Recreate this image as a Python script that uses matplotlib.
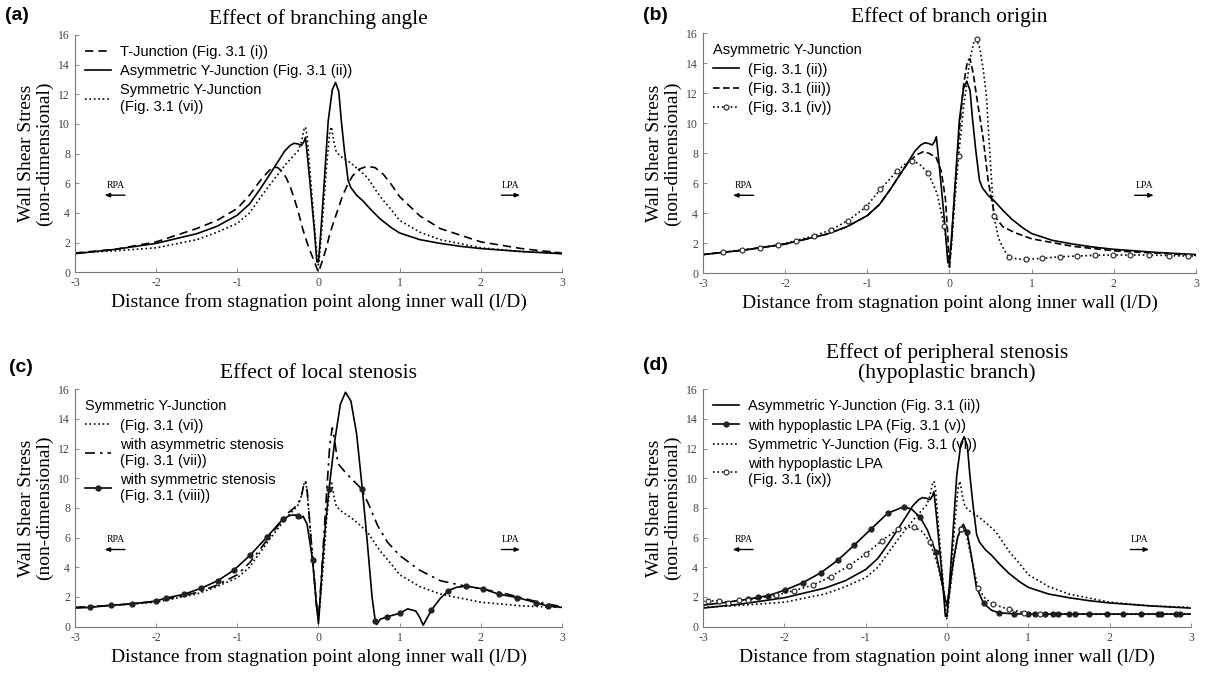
import matplotlib
matplotlib.use("Agg")
import matplotlib.pyplot as plt
import numpy as np

plt.rcParams["axes.unicode_minus"] = False

SERIF = ["Liberation Serif", "DejaVu Serif"]
SANS = ["Liberation Sans", "DejaVu Sans"]

# ---- Asymmetric Y-Junction (Fig. 3.1 (ii)) - used in (a), (b), (d)
asym_x = [-3, -2.5, -2.0, -1.5, -1.25, -1.0, -0.85, -0.72, -0.6, -0.5, -0.42, -0.35, -0.3, -0.25,
          -0.21, -0.18, -0.16, -0.13, -0.09, -0.05, -0.02, 0.0, 0.03, 0.07, 0.12, 0.17, 0.21, 0.25,
          0.28, 0.32, 0.365, 0.4, 0.47, 0.55, 0.65, 0.76, 0.9, 1.0, 1.25, 1.5, 1.75, 2.0, 2.5, 3.0]
asym_y = [1.25, 1.55, 1.95, 2.6, 3.1, 3.85, 4.6, 5.6, 6.6, 7.45, 8.15, 8.55, 8.7, 8.65,
          8.55, 8.8, 9.1, 7.5, 5.2, 2.8, 0.7, 0.7, 2.8, 6.0, 10.2, 12.3, 12.8, 12.2,
          10.3, 8.2, 6.2, 5.7, 5.2, 4.8, 4.2, 3.6, 3.0, 2.65, 2.2, 1.95, 1.75, 1.6, 1.4, 1.25]

# ---- Symmetric Y-Junction (Fig. 3.1 (vi)) - used in (a), (c), (d)
sym_x = [-3, -2.5, -2, -1.5, -1.25, -1.0, -0.85, -0.72, -0.6, -0.5, -0.4, -0.3, -0.25, -0.21,
         -0.18, -0.16, -0.14, -0.1, -0.06, -0.02, 0, 0.02, 0.06, 0.1, 0.14, 0.16, 0.19, 0.22,
         0.3, 0.39, 0.5, 0.6, 0.76, 0.9, 1.0, 1.25, 1.5, 2.0, 2.5, 3.0]
sym_y = [1.3, 1.45, 1.65, 2.2, 2.7, 3.3, 4.0, 5.0, 5.9, 6.6, 7.3, 7.9, 8.2, 8.8,
         9.6, 9.8, 9.2, 6.5, 3.8, 1.2, 0.5, 1.5, 4.2, 7.2, 9.5, 9.8, 8.8, 8.1,
         7.7, 7.4, 6.9, 6.4, 5.1, 4.2, 3.5, 2.7, 2.2, 1.65, 1.4, 1.3]

# ---- (a) T-Junction (Fig. 3.1 (i))
tj_x = [-3, -2.5, -2, -1.5, -1.25, -1, -0.85, -0.7, -0.6, -0.55, -0.5, -0.45, -0.4, -0.35,
        -0.3, -0.25, -0.19, -0.14, -0.1, -0.05, 0, 0.05, 0.1, 0.14, 0.2, 0.25, 0.3, 0.35,
        0.42, 0.5, 0.6, 0.7, 0.8, 0.9, 1.0, 1.25, 1.5, 2.0, 2.5, 3.0]
tj_y = [1.3, 1.55, 2.05, 2.95, 3.5, 4.3, 5.2, 6.3, 6.9, 7.1, 7.05, 6.8, 6.4, 5.8,
        5.0, 4.1, 2.85, 2.0, 1.4, 0.7, 0.0, 0.8, 1.7, 2.6, 3.6, 4.4, 5.2, 5.8,
        6.5, 6.95, 7.15, 7.05, 6.6, 5.9, 5.1, 3.8, 2.95, 2.05, 1.6, 1.3]

# ---- (b) Fig. 3.1 (iii)
b3_x = [-3, -2.5, -2, -1.5, -1.25, -1.0, -0.85, -0.72, -0.6, -0.5, -0.4, -0.32, -0.25, -0.16,
        -0.1, -0.05, -0.02, 0, 0.03, 0.07, 0.12, 0.17, 0.22, 0.25, 0.29, 0.33, 0.37, 0.41,
        0.47, 0.55, 0.65, 0.8, 1.0, 1.5, 2.0, 2.5, 3.0]
b3_y = [1.25, 1.55, 1.95, 2.6, 3.1, 3.85, 4.6, 5.6, 6.6, 7.4, 7.9, 8.1, 8.0, 7.7,
        6.8, 5.0, 2.5, 0.4, 2.5, 6.0, 9.5, 12.5, 14.2, 14.3, 13.3, 11.8, 10.4, 9.0,
        6.2, 3.8, 3.1, 2.7, 2.3, 1.8, 1.5, 1.35, 1.2]

# ---- (b) Fig. 3.1 (iv)
b4_x = [-3, -2.76, -2.53, -2.31, -2.09, -1.87, -1.65, -1.44, -1.24, -1.02, -0.84, -0.64, -0.55,
        -0.46, -0.37, -0.26, -0.15, -0.065, -0.02, 0, 0.03, 0.06, 0.11, 0.17, 0.25, 0.3, 0.33,
        0.37, 0.41, 0.45, 0.49, 0.54, 0.6, 0.67, 0.73, 0.83, 0.93, 1.13, 1.34, 1.55, 1.77,
        1.99, 2.2, 2.43, 2.67, 2.9, 3.0]
b4_y = [1.25, 1.4, 1.55, 1.69, 1.87, 2.18, 2.5, 2.9, 3.5, 4.4, 5.6, 6.8, 7.25,
        7.5, 7.3, 6.7, 5.3, 3.15, 1.4, 0.5, 2.2, 4.5, 7.8, 11.0, 14.3, 15.5, 15.6,
        15.0, 13.6, 11.8, 8.1, 3.8, 2.3, 1.5, 1.07, 0.95, 0.93, 1.0, 1.1, 1.15, 1.2,
        1.22, 1.22, 1.22, 1.18, 1.15, 1.15]
b4_marks = [-2.76, -2.53, -2.31, -2.09, -1.87, -1.65, -1.44, -1.24, -1.02, -0.84, -0.64, -0.46,
            -0.26, -0.065, 0.11, 0.33, 0.54, 0.73, 0.93, 1.13, 1.34, 1.55, 1.77, 1.99, 2.2,
            2.43, 2.67, 2.9]

# ---- (c) with asymmetric stenosis (Fig. 3.1 (vii))
c7_x = [-3, -2.5, -2, -1.5, -1.25, -1.0, -0.85, -0.72, -0.6, -0.5, -0.39, -0.3, -0.25, -0.21,
        -0.18, -0.16, -0.14, -0.1, -0.06, -0.02, 0, 0.02, 0.06, 0.1, 0.14, 0.17, 0.2, 0.24,
        0.3, 0.4, 0.53, 0.63, 0.73, 0.85, 1.0, 1.25, 1.5, 1.75, 2.0, 2.25, 2.5, 2.75, 3.0]
c7_y = [1.3, 1.45, 1.7, 2.3, 2.8, 3.5, 4.3, 5.2, 6.1, 6.8, 7.6, 8.0, 8.3, 8.8,
        9.6, 9.8, 9.2, 6.5, 3.8, 1.2, 0.5, 2.0, 5.5, 9.0, 12.3, 13.4, 12.5, 11.0,
        10.6, 10.0, 9.3, 8.1, 6.8, 5.7, 4.8, 3.8, 3.1, 2.8, 2.55, 2.3, 1.95, 1.6, 1.35]

# ---- (c) with symmetric stenosis (Fig. 3.1 (viii))
c8_x = [-3, -2.81, -2.56, -2.3, -2.0, -1.88, -1.66, -1.45, -1.24, -1.04, -0.84, -0.63, -0.44,
        -0.35, -0.29, -0.25, -0.22, -0.19, -0.14, -0.073, -0.03, 0, 0.04, 0.08, 0.13, 0.2,
        0.27, 0.333, 0.4, 0.47, 0.54, 0.6, 0.66, 0.7, 0.72, 0.76, 0.85, 1.0, 1.1, 1.2, 1.25,
        1.29, 1.34, 1.39, 1.5, 1.6, 1.7, 1.82, 2.03, 2.23, 2.45, 2.68, 2.83, 3.0]
c8_y = [1.25, 1.3, 1.44, 1.53, 1.73, 1.93, 2.18, 2.58, 3.1, 3.82, 4.83, 6.07, 7.24,
        7.5, 7.53, 7.45, 7.3, 7.45, 6.9, 4.5, 1.8, 0.2, 3.5, 6.5, 9.3, 12.5,
        15.0, 15.8, 15.2, 13.0, 9.3, 5.8, 2.0, 0.38, 0.15, 0.5, 0.67, 0.9, 1.2, 1.05, 0.6,
        0.1, 0.6, 1.1, 1.9, 2.43, 2.65, 2.74, 2.54, 2.18, 1.96, 1.62, 1.38, 1.3]
c8_marks = [-2.81, -2.56, -2.3, -2.0, -1.88, -1.66, -1.45, -1.24, -1.04, -0.84, -0.63, -0.44,
            -0.25, -0.073, 0.13, 0.54, 0.7, 0.85, 1.0, 1.39, 1.6, 1.82, 2.03, 2.23, 2.45,
            2.68, 2.83]

# ---- (d) with hypoplastic LPA (Fig. 3.1 (v))
d5_x = [-3, -2.7, -2.45, -2.32, -2.2, -1.99, -1.77, -1.55, -1.34, -1.14, -0.93, -0.73, -0.53,
        -0.43, -0.33, -0.24, -0.14, -0.07, -0.02, 0, 0.03, 0.08, 0.13, 0.17, 0.2, 0.245, 0.3,
        0.36, 0.45, 0.55, 0.64, 0.83, 1.0, 1.08, 1.2, 1.3, 1.37, 1.5, 1.57, 1.75, 1.97, 2.17,
        2.38, 2.6, 2.63, 2.82, 2.87, 3.0]
d5_y = [1.45, 1.65, 1.85, 1.98, 2.09, 2.47, 2.97, 3.64, 4.49, 5.5, 6.6, 7.64, 8.09,
        7.9, 7.37, 6.5, 5.06, 3.2, 1.8, 1.5, 2.5, 4.5, 6.0, 6.6, 6.9, 6.4, 4.8,
        2.7, 1.57, 1.1, 0.94, 0.86, 0.85, 0.85, 0.85, 0.85, 0.85, 0.85, 0.85, 0.85, 0.85, 0.85,
        0.85, 0.85, 0.85, 0.85, 0.85, 0.85]
d5_marks = [-2.45, -2.32, -2.2, -1.99, -1.77, -1.55, -1.34, -1.14, -0.93, -0.73, -0.53, -0.33,
            -0.14, 0.17, 0.245, 0.45, 0.64, 0.83, 1.0, 1.08, 1.2, 1.3, 1.37, 1.5, 1.57, 1.75,
            1.97, 2.17, 2.38, 2.6, 2.63, 2.82, 2.87]

# ---- (d) with hypoplastic LPA (Fig. 3.1 (ix))
d9_x = [-3, -2.94, -2.8, -2.69, -2.56, -2.45, -2.3, -2.1, -1.88, -1.65, -1.43, -1.21, -1.0,
        -0.8, -0.6, -0.5, -0.4, -0.3, -0.21, -0.1, -0.03, 0, 0.04, 0.08, 0.13, 0.17, 0.2,
        0.24, 0.3, 0.38, 0.47, 0.56, 0.76, 0.95, 1.14, 1.5, 2.0, 2.5, 3.0]
d9_y = [1.7, 1.72, 1.75, 1.62, 1.8, 1.8, 1.95, 2.13, 2.43, 2.8, 3.37, 4.09, 4.9,
        5.8, 6.58, 6.7, 6.7, 6.4, 5.7, 3.9, 2.0, 1.3, 2.5, 4.3, 6.0, 6.56, 6.7,
        6.2, 4.6, 2.63, 1.9, 1.53, 1.17, 0.94, 0.87, 0.85, 0.85, 0.85, 0.85]
d9_marks = [-2.94, -2.8, -2.69, -2.56, -2.45, -2.1, -1.88, -1.65, -1.43, -1.21, -1.0, -0.8,
            -0.6, -0.4, -0.21, 0.17, 0.38, 0.56, 0.76, 0.95, 1.14]

titles = ["Effect of branching angle", "Effect of branch origin",
          "Effect of local stenosis", "Effect of peripheral stenosis\n(hypoplastic branch)"]
letters = ["(a)", "(b)", "(c)", "(d)"]


def marks_idx(xs, marks):
    return list(np.nonzero(np.isin(np.array(xs), np.array(marks)))[0])


def setup(ax, title):
    ax.set_xlim(-3, 3)
    ax.set_ylim(0, 16)
    ax.set_xticks(range(-3, 4))
    ax.set_yticks(range(0, 17, 2))
    for s in ["top", "right"]:
        ax.spines[s].set_visible(False)
    for s in ["left", "bottom"]:
        ax.spines[s].set_color("#777777")
        ax.spines[s].set_linewidth(0.8)
    ax.tick_params(direction="in", length=3, width=0.6, color="#777777",
                   labelsize=8.5, labelcolor="#444444")
    for lab in ax.get_xticklabels() + ax.get_yticklabels():
        lab.set_family(SERIF)
    ax.set_xlabel("Distance from stagnation point along inner wall (l/D)",
                  family=SERIF, fontsize=14, labelpad=3)
    ax.set_ylabel("Wall Shear Stress\n(non-dimensional)", family=SERIF,
                  fontsize=14, labelpad=4, linespacing=1.0)
    ax.set_title(title, family=SERIF, fontsize=15.5, pad=8, linespacing=1.0)
    ax.text(-2.5, 5.55, "RPA", family=SERIF, fontsize=7, ha="center", va="bottom")
    ax.annotate("", xy=(-2.67, 5.2), xytext=(-2.35, 5.2),
                arrowprops=dict(arrowstyle="-|>,head_length=0.3,head_width=0.12", lw=1.0, color="black"))
    ax.text(2.37, 5.55, "LPA", family=SERIF, fontsize=7, ha="center", va="bottom")
    ax.annotate("", xy=(2.52, 5.2), xytext=(2.22, 5.2),
                arrowprops=dict(arrowstyle="-|>,head_length=0.3,head_width=0.12", lw=1.0, color="black"))


def leg(ax, title=None):
    lg = ax.legend(loc="upper left", frameon=False, fontsize=10.5, handlelength=1.8,
                   handletextpad=0.6, labelspacing=0.35, borderaxespad=0.3,
                   numpoints=1, title=title, title_fontsize=10.5, alignment="left",
                   prop={"family": SANS, "size": 10.5})
    if title is not None:
        lg.get_title().set_family(SANS)
    return lg


fig = plt.figure(figsize=(12.19, 6.75), dpi=100)
ax_a = fig.add_axes([0.0615, 0.5966, 0.3995, 0.3516])
ax_b = fig.add_axes([0.5767, 0.5951, 0.4044, 0.3556])
ax_c = fig.add_axes([0.0615, 0.0716, 0.3995, 0.3517])
ax_d = fig.add_axes([0.5767, 0.0716, 0.4003, 0.3517])
axes = [ax_a, ax_b, ax_c, ax_d]

lw = 1.2
ms = 3.5

# (a)
ax_a.plot(tj_x, tj_y, color="black", lw=lw, ls=(0, (5, 3)), label="T-Junction (Fig. 3.1 (i))")
ax_a.plot(asym_x, asym_y, color="black", lw=lw, ls="-", label="Asymmetric Y-Junction (Fig. 3.1 (ii))")
ax_a.plot(sym_x, sym_y, color="black", lw=lw, ls=":", label="Symmetric Y-Junction\n(Fig. 3.1 (vi))")
leg(ax_a)

# (b)
ax_b.plot(asym_x, asym_y, color="black", lw=lw, ls="-", label="(Fig. 3.1 (ii))")
ax_b.plot(b3_x, b3_y, color="black", lw=lw, ls=(0, (4, 2)), label="(Fig. 3.1 (iii))")
ax_b.plot(b4_x, b4_y, color="black", lw=lw, ls=":", marker="o", ms=ms, mfc="white",
          mec="#333333", mew=0.9, markevery=marks_idx(b4_x, b4_marks), label="(Fig. 3.1 (iv))")
leg(ax_b, "Asymmetric Y-Junction")

# (c)
ax_c.plot(sym_x, sym_y, color="black", lw=lw, ls=":", label="(Fig. 3.1 (vi))")
ax_c.plot(c7_x, c7_y, color="black", lw=lw, ls=(0, (6, 3, 1.5, 3)),
          label="with asymmetric stenosis\n(Fig. 3.1 (vii))")
ax_c.plot(c8_x, c8_y, color="black", lw=lw, ls="-", marker="o", ms=ms, mfc="#222222",
          mec="#222222", markevery=marks_idx(c8_x, c8_marks),
          label="with symmetric stenosis\n(Fig. 3.1 (viii))")
leg(ax_c, "Symmetric Y-Junction")

# (d)
ax_d.plot(asym_x, asym_y, color="black", lw=lw, ls="-", label="Asymmetric Y-Junction (Fig. 3.1 (ii))")
ax_d.plot(d5_x, d5_y, color="black", lw=lw, ls="-", marker="o", ms=ms, mfc="#222222",
          mec="#222222", markevery=marks_idx(d5_x, d5_marks), label="with hypoplastic LPA (Fig. 3.1 (v))")
ax_d.plot(sym_x, sym_y, color="black", lw=lw, ls=":", label="Symmetric Y-Junction (Fig. 3.1 (vi))")
ax_d.plot(d9_x, d9_y, color="black", lw=lw, ls=":", marker="o", ms=ms, mfc="white",
          mec="#333333", mew=0.9, markevery=marks_idx(d9_x, d9_marks),
          label="with hypoplastic LPA\n(Fig. 3.1 (ix))")
leg(ax_d)

for ax, t in zip(axes, titles):
    setup(ax, t)

letter_pos = [(17, 15), (655, 15), (21, 368), (655, 365)]
for (px, py), l in zip(letter_pos, letters):
    fig.text(px / 1219, 1 - py / 675, l, family=SANS, fontsize=14, fontweight="bold",
             ha="center", va="center")

fig.savefig("out.png", dpi=100)
